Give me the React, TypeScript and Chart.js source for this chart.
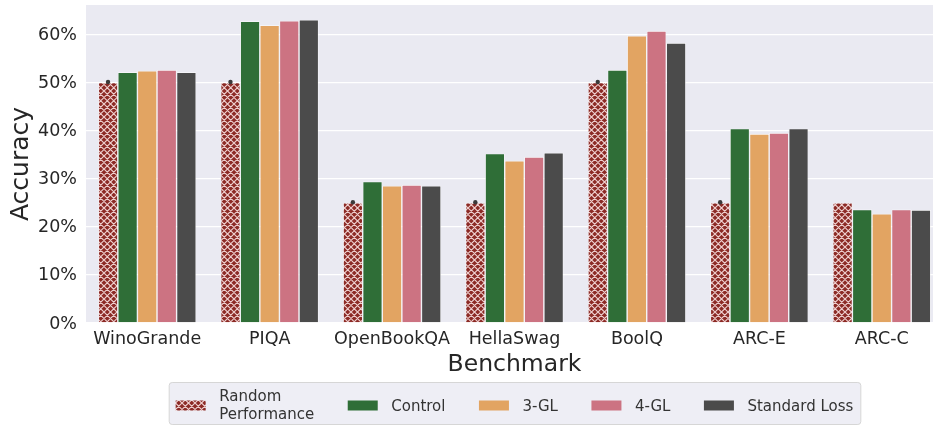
import { useEffect, useRef } from 'react';
import { Chart, registerables } from 'chart.js';

Chart.register(...registerables);

const categories = ['WinoGrande', 'PIQA', 'OpenBookQA', 'HellaSwag', 'BoolQ', 'ARC-E', 'ARC-C'];
const randomPerf = [50.0, 50.0, 25.0, 25.0, 50.0, 25.0, 25.0];
const control = [52.1, 62.7, 29.4, 35.2, 52.6, 40.4, 23.6];
const gl3 = [52.4, 61.9, 28.5, 33.7, 59.7, 39.3, 22.7];
const gl4 = [52.6, 62.8, 28.7, 34.5, 60.7, 39.5, 23.6];
const standardLoss = [52.1, 63.0, 28.5, 35.4, 58.2, 40.4, 23.5];
const randomErrDot = [true, true, true, true, true, true, false];
const seriesNames: (string | string[])[] = [['Random', 'Performance'], 'Control', '3-GL', '4-GL', 'Standard Loss'];
const seriesColors = ['#8c2a25', '#2f6e37', '#e2a462', '#cc7382', '#4b4b4b'];
const yTickValues = [0, 10, 20, 30, 40, 50, 60];

const FONT = '"DejaVu Sans", sans-serif';
const TEXT = '#262626';

function makeHatch(base: string): CanvasPattern | string {
  const s = 13;
  const c = document.createElement('canvas');
  c.width = s;
  c.height = s;
  const g = c.getContext('2d');
  if (!g) return base;
  g.fillStyle = base;
  g.fillRect(0, 0, s, s);
  g.strokeStyle = 'rgba(255,236,236,0.85)';
  g.lineWidth = 1.2;
  g.beginPath();
  for (let k = -3; k <= 5; k++) {
    const c0 = k * 6.5;
    g.moveTo(c0 - 2, -2);
    g.lineTo(c0 + s + 2, s + 2);
    g.moveTo(c0 + 2, -2);
    g.lineTo(c0 - s - 2, s + 2);
  }
  g.stroke();
  return g.createPattern(c, 'repeat') || base;
}

export default function App() {
  const ref = useRef<HTMLCanvasElement | null>(null);

  useEffect(() => {
    document.body.style.margin = '0';
    const canvas = ref.current;
    if (!canvas) return;
    const hatch = makeHatch(seriesColors[0]);
    const series = [randomPerf, control, gl3, gl4, standardLoss];

    const bgPlugin = {
      id: 'bg',
      beforeDraw(chart: any) {
        const { ctx, chartArea: a } = chart;
        ctx.save();
        ctx.fillStyle = '#ffffff';
        ctx.fillRect(0, 0, chart.width, chart.height);
        ctx.fillStyle = '#eaeaf2';
        ctx.fillRect(a.left, a.top, a.right - a.left, a.bottom - a.top);
        ctx.restore();
      },
    };

    const dotPlugin = {
      id: 'dots',
      afterDatasetsDraw(chart: any) {
        const { ctx } = chart;
        const meta = chart.getDatasetMeta(0);
        ctx.save();
        ctx.fillStyle = '#3a3a3a';
        meta.data.forEach((el: any, i: number) => {
          if (!randomErrDot[i]) return;
          ctx.beginPath();
          ctx.arc(el.x, el.y - 0.5, 2.2, 0, Math.PI * 2);
          ctx.fill();
        });
        ctx.restore();
      },
    };

    const legendPlugin = {
      id: 'customLegend',
      afterDraw(chart: any) {
        const { ctx, chartArea: a } = chart;
        const ds = chart.data.datasets;
        ctx.save();
        ctx.font = `15px ${FONT}`;
        const sw = 30, gapT = 13.5, gapI = 33.5, padX = 7;
        const items = ds.map((d: any, i: number) => {
          const lines = Array.isArray(seriesNames[i]) ? (seriesNames[i] as string[]) : [seriesNames[i] as string];
          const w = Math.max(...lines.map((l) => ctx.measureText(l).width));
          return { lines, w, fill: d.backgroundColor };
        });
        let total = padX * 2;
        items.forEach((it: any, i: number) => {
          total += sw + gapT + it.w + (i > 0 ? gapI : 0);
        });
        const cx = (a.left + a.right) / 2;
        const left = cx - total / 2;
        const top = 382, h = 42;
        ctx.beginPath();
        (ctx as any).roundRect(left + 0.5, top + 0.5, total, h, 3);
        ctx.fillStyle = '#eeeef5';
        ctx.fill();
        ctx.strokeStyle = '#d6d6d6';
        ctx.lineWidth = 1;
        ctx.stroke();
        let x = left + padX;
        items.forEach((it: any) => {
          ctx.fillStyle = it.fill;
          ctx.fillRect(x, 400.5, sw, 10);
          ctx.fillStyle = '#333333';
          ctx.textAlign = 'left';
          ctx.textBaseline = 'alphabetic';
          if (it.lines.length === 1) {
            ctx.fillText(it.lines[0], x + sw + gapT, 411);
          } else {
            ctx.fillText(it.lines[0], x + sw + gapT, 401.3);
            ctx.fillText(it.lines[1], x + sw + gapT, 418.7);
          }
          x += sw + gapT + it.w + gapI;
        });
        ctx.restore();
      },
    };

    const chart = new Chart(canvas, {
      type: 'bar',
      data: {
        labels: categories,
        datasets: series.map((data, i) => ({
          label: Array.isArray(seriesNames[i]) ? (seriesNames[i] as string[]).join(' ') : (seriesNames[i] as string),
          data,
          backgroundColor: i === 0 ? (hatch as any) : seriesColors[i],
          borderColor: 'rgba(255,255,255,0.85)',
          borderWidth: 0.7,
          categoryPercentage: 0.8,
          barPercentage: 1,
        })),
      },
      options: {
        responsive: false,
        animation: false,
        devicePixelRatio: 1,
        layout: { padding: { left: 0, right: 17, top: 5, bottom: 45 } },
        plugins: { legend: { display: false }, tooltip: { enabled: false } },
        scales: {
          x: {
            grid: { display: false, drawTicks: false },
            border: { display: false },
            ticks: { color: TEXT, font: { family: FONT, size: 17.5 }, padding: 6, maxRotation: 0, autoSkip: false },
            title: { display: true, text: 'Benchmark', color: TEXT, font: { family: FONT, size: 23.5 }, padding: { top: 0, bottom: 1.4 } },
            afterFit(s: any) {
              s.height = 57;
              s.paddingLeft = 0;
              s.paddingRight = 0;
            },
          },
          y: {
            min: 0,
            max: 66.1,
            afterBuildTicks(s: any) {
              s.ticks = yTickValues.map((v) => ({ value: v }));
            },
            ticks: { color: TEXT, font: { family: FONT, size: 17.5 }, padding: 9, labelOffset: 1, callback: (v: any) => `${v}%` },
            grid: { color: '#ffffff', lineWidth: 1.3, drawTicks: false },
            border: { display: false },
            title: { display: true, text: 'Accuracy', color: TEXT, font: { family: FONT, size: 25 }, padding: { top: 6, bottom: 0 } },
            afterFit(s: any) {
              s.width = 86;
              s.paddingTop = 0;
              s.paddingBottom = 0;
            },
          },
        },
      },
      plugins: [bgPlugin, dotPlugin, legendPlugin],
    });
    return () => chart.destroy();
  }, []);

  return (
    <div style={{ width: 933, height: 425, overflow: 'hidden', position: 'relative' }}>
      <canvas ref={ref} width={960} height={425} style={{ width: 960, height: 425, display: 'block' }} />
    </div>
  );
}
